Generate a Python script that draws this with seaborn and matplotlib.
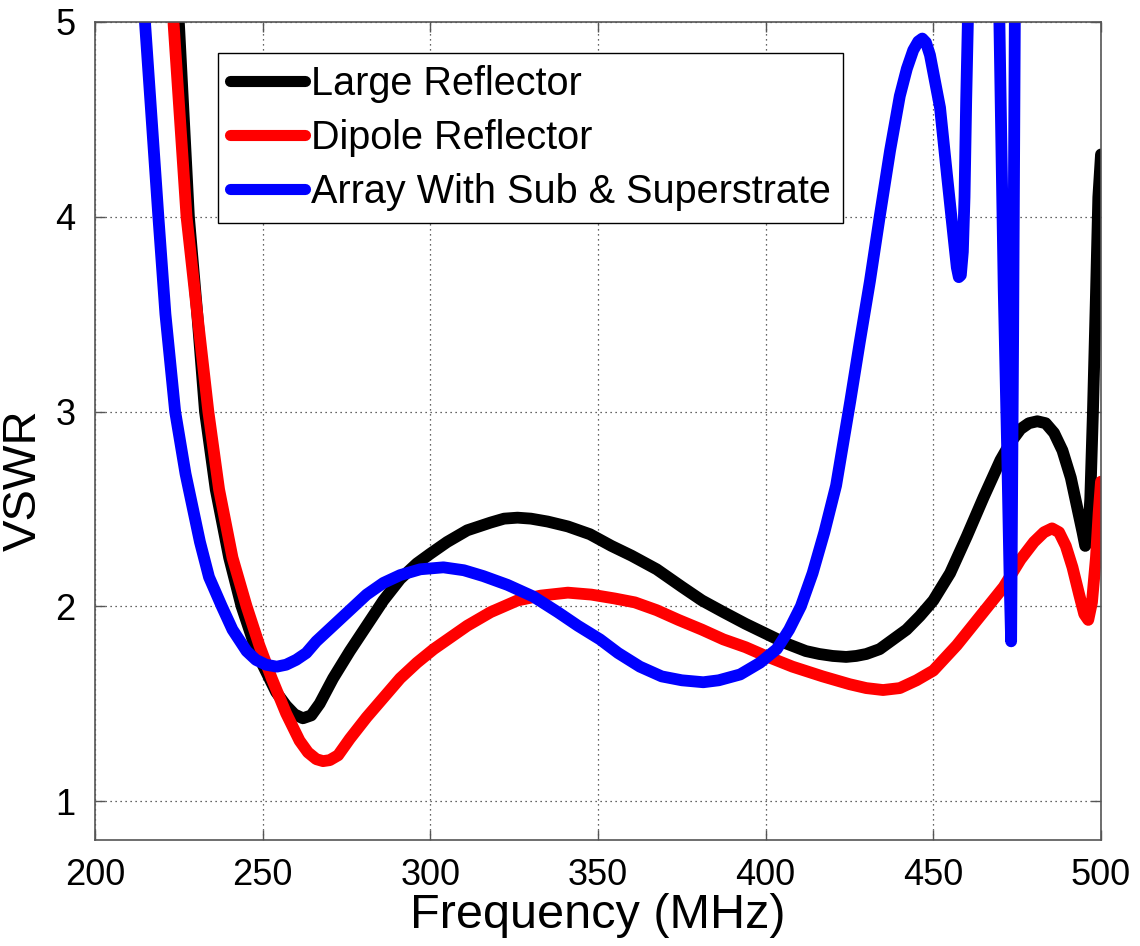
import numpy as np
import pandas as pd
import matplotlib
matplotlib.use("Agg")
import matplotlib.pyplot as plt
import seaborn as sns

# ---- data ----
large_freq = [223.3, 225.0, 228.0, 230.5, 232.8, 236.0, 240.0, 243.7, 247.0, 250.0, 254.0, 257.0,
              259.5, 262.0, 264.5, 267.0, 271.0, 276.0, 281.0, 286.0, 291.0, 296.0, 300.0, 305.0,
              311.0, 318.0, 322.0, 326.0, 330.0, 335.0, 341.0, 347.6, 354.0, 360.0, 367.5, 375.0,
              381.0, 387.4, 394.0, 400.0, 406.0, 412.0, 416.0, 420.0, 424.0, 427.0, 430.0, 434.0,
              438.0, 442.0, 446.0, 450.0, 455.0, 460.0, 465.0, 470.0, 473.0, 476.0, 478.5, 481.0,
              483.5, 486.0, 488.5, 491.0, 493.0, 494.5, 495.3, 496.0, 496.8, 497.6, 498.5, 499.2,
              500.0]
large_vswr = [5.6, 5.0, 4.0, 3.5, 3.0, 2.6, 2.25, 2.0, 1.83, 1.70, 1.56, 1.49,
              1.445, 1.425, 1.44, 1.50, 1.63, 1.77, 1.90, 2.03, 2.14, 2.22, 2.27, 2.33,
              2.39, 2.43, 2.45, 2.455, 2.45, 2.435, 2.41, 2.37, 2.31, 2.26, 2.19, 2.10,
              2.03, 1.97, 1.91, 1.86, 1.81, 1.77, 1.755, 1.745, 1.74, 1.745, 1.755, 1.78,
              1.83, 1.88, 1.95, 2.03, 2.17, 2.36, 2.56, 2.75, 2.84, 2.91, 2.94, 2.95,
              2.94, 2.89, 2.80, 2.66, 2.50, 2.38, 2.31, 2.33, 2.55, 3.0, 3.6, 4.1,
              4.32]

dipole_freq = [221.1, 223.4, 227.3, 230.5, 233.8, 237.0, 241.0, 245.2, 249.0, 252.7, 257.0, 261.0,
               263.5, 266.0, 268.0, 270.0, 272.5, 276.0, 281.0, 286.0, 291.0, 296.0, 301.0, 306.0,
               311.0, 318.0, 326.0, 333.0, 341.0, 348.0, 355.0, 361.0, 367.5, 374.0, 381.0, 387.4,
               394.0, 400.0, 408.0, 417.0, 425.0, 430.0, 435.0, 440.0, 445.0, 450.0, 457.0, 464.0,
               471.0, 476.0, 480.0, 483.0, 485.4, 487.5, 489.5, 491.5, 493.5, 495.0, 496.2, 497.3,
               498.5, 499.3, 500.0]
dipole_vswr = [5.6, 5.0, 4.0, 3.5, 3.0, 2.6, 2.25, 2.0, 1.8, 1.63, 1.45, 1.31,
               1.25, 1.215, 1.205, 1.21, 1.235, 1.32, 1.43, 1.53, 1.63, 1.71, 1.78, 1.84,
               1.90, 1.97, 2.03, 2.055, 2.07, 2.06, 2.04, 2.02, 1.98, 1.93, 1.88, 1.83,
               1.79, 1.745, 1.69, 1.64, 1.60, 1.58, 1.57, 1.58, 1.62, 1.67, 1.80, 1.95,
               2.10, 2.24, 2.33, 2.38, 2.40, 2.38, 2.31, 2.20, 2.06, 1.96, 1.93, 2.02,
               2.25, 2.48, 2.64]

array_freq = [212.5, 214.9, 218.9, 221.0, 223.9, 227.0, 231.3, 234.0, 237.8, 241.0, 245.2, 248.0,
              251.0, 254.2, 257.0, 260.0, 263.0, 266.0, 271.0, 276.0, 281.0, 286.0, 291.0, 297.0,
              303.9, 310.0, 315.8, 323.0, 330.7, 338.0, 344.0, 350.6, 356.0, 362.5, 369.0, 375.0,
              381.4, 386.0, 392.4, 398.3, 403.3, 407.0, 410.5, 414.0, 417.5, 421.0, 425.2, 428.0,
              431.1, 434.0, 437.1, 440.0, 442.1, 444.0, 445.5, 446.7, 447.8, 449.0, 450.0, 452.0,
              454.1, 456.0, 457.0, 457.6, 458.2, 458.8, 459.3, 459.8, 460.3, 460.8, 469.2, 469.7,
              471.0, 472.0, 472.8, 473.2, 473.8, 474.3, 474.6]
array_vswr = [5.6, 5.0, 4.0, 3.5, 3.0, 2.68, 2.33, 2.15, 2.0, 1.88, 1.77, 1.725,
              1.70, 1.69, 1.70, 1.725, 1.76, 1.82, 1.90, 1.98, 2.06, 2.12, 2.16, 2.19,
              2.20, 2.185, 2.155, 2.11, 2.05, 1.97, 1.90, 1.83, 1.76, 1.69, 1.64, 1.62,
              1.61, 1.62, 1.65, 1.71, 1.78, 1.88, 2.0, 2.17, 2.38, 2.62, 3.05, 3.35,
              3.67, 4.0, 4.34, 4.62, 4.76, 4.855, 4.90, 4.915, 4.895, 4.83, 4.74, 4.56,
              4.21, 3.90, 3.74, 3.69, 3.70, 3.82, 4.1, 4.6, 5.0, 5.6, 5.6, 5.0,
              3.62, 2.82, 2.1, 1.82, 3.4, 5.0, 5.6]

series_names = ["Large Reflector", "Dipole Reflector", "Array With Sub & Superstrate"]
series_colors = ["#000000", "#ff0000", "#0000ff"]

x_ticks = [200, 250, 300, 350, 400, 450, 500]
y_ticks = [1, 2, 3, 4, 5]

# ---- plotting ----
sns.set_style("ticks")
plt.rcParams['font.family'] = ['Liberation Sans', 'DejaVu Sans']
plt.rcParams['text.color'] = 'black'
plt.rcParams['axes.labelcolor'] = 'black'

fig = plt.figure(figsize=(11.4, 9.46), dpi=100)
ax = fig.add_axes([95/1140, 1 - 840/946, (1101-95)/1140, (840-22)/946])

frames = [
    pd.DataFrame({"Frequency": large_freq, "VSWR": large_vswr}),
    pd.DataFrame({"Frequency": dipole_freq, "VSWR": dipole_vswr}),
    pd.DataFrame({"Frequency": array_freq, "VSWR": array_vswr}),
]
for df, name, col in zip(frames, series_names, series_colors):
    sns.lineplot(data=df, x="Frequency", y="VSWR", ax=ax, color=col, linewidth=8.5,
                 label=name, sort=False, estimator=None, solid_joinstyle="round",
                 solid_capstyle="round")

ax.set_xlim(200, 500)
ax.set_ylim(0.8, 5)
ax.set_xticks(x_ticks)
ax.set_yticks(y_ticks)
ax.set_xticklabels([str(v) for v in x_ticks])
ax.set_yticklabels([str(v) for v in y_ticks])

ax.grid(True, linestyle=(0, (1, 3)), color="#333333", linewidth=0.9)
ax.set_axisbelow(True)

for s in ax.spines.values():
    s.set_color("#555555")
    s.set_linewidth(1.2)
ax.tick_params(axis="both", which="both", direction="in", length=7, width=1,
               color="#555555", top=True, right=True, labelsize=26,
               labelcolor="black")
ax.tick_params(axis="x", pad=13)
ax.tick_params(axis="y", pad=14)

ax.set_xlabel("Frequency (MHz)", fontsize=35, labelpad=0, color="black")
ax.set_ylabel("VSWR", fontsize=34, color="black")
ax.yaxis.set_label_coords(-0.049, 0.44)

handles, labels = ax.get_legend_handles_labels()
leg = ax.legend(handles, labels, loc="upper left", bbox_to_anchor=(0.122, 0.962),
                borderaxespad=0, fontsize=28.5, frameon=True, fancybox=False,
                edgecolor="black", framealpha=1, handlelength=1.9, handletextpad=0.15,
                labelspacing=0.4, borderpad=0.3)
leg.get_frame().set_linewidth(1.0)
for h in leg.legend_handles:
    h.set_linewidth(8)
for t in leg.get_texts():
    t.set_color("black")

fig.savefig("out.png", dpi=100)
